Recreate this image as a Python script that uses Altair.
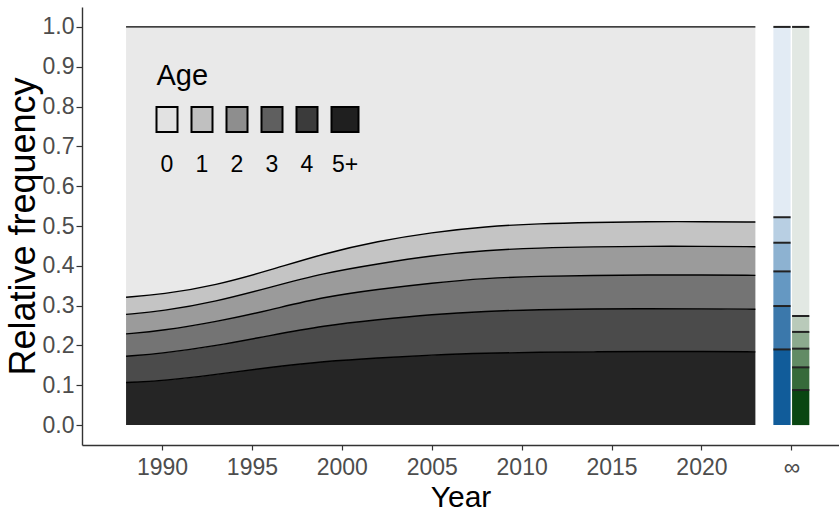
import altair as alt
import pandas as pd

# ---- data -----------------------------------------------------------------
years = [1988, 1990, 1993, 1996, 1999, 2002, 2005, 2008, 2011, 2014, 2017, 2020, 2023]

# cumulative share of the catch aged at least k (upper edge of the bands below)
age_1plus = [0.321, 0.328, 0.351, 0.389, 0.431, 0.462, 0.484, 0.499, 0.506, 0.509, 0.511, 0.511, 0.510]
age_2plus = [0.278, 0.286, 0.310, 0.346, 0.382, 0.405, 0.426, 0.439, 0.445, 0.448, 0.449, 0.449, 0.448]
age_3plus = [0.229, 0.237, 0.259, 0.289, 0.322, 0.341, 0.357, 0.369, 0.374, 0.376, 0.377, 0.377, 0.376]
age_4plus = [0.173, 0.180, 0.199, 0.225, 0.250, 0.265, 0.278, 0.286, 0.290, 0.292, 0.292, 0.292, 0.291]
age_5plus = [0.107, 0.111, 0.127, 0.145, 0.160, 0.169, 0.176, 0.181, 0.183, 0.184, 0.185, 0.185, 0.184]

ages = ["0", "1", "2", "3", "4", "5+"]

# long-run (year -> infinity) cumulative shares, ages >=1 ... 5+
equilibrium_blue = [0.522, 0.458, 0.386, 0.299, 0.190]
equilibrium_green = [0.274, 0.234, 0.192, 0.145, 0.088]

x_ticks = [1990, 1995, 2000, 2005, 2010, 2015, 2020, 2025]
y_ticks = [0.0, 0.1, 0.2, 0.3, 0.4, 0.5, 0.6, 0.7, 0.8, 0.9, 1.0]

# ---- styles ----------------------------------------------------------------
FONT = "Liberation Sans, Arial, sans-serif"
AREA_FILL = ["#E9E9E9", "#C4C4C4", "#9B9B9B", "#747474", "#4B4B4B", "#252525"]
KEY_FILL = ["#E2E2E2", "#C0C0C0", "#8E8E8E", "#5F5F5F", "#3B3B3B", "#1F1F1F"]
BLUE_FILL = ["#E2EBF4", "#B8CFE3", "#8DB2D1", "#6598C2", "#3B78AB", "#115C9A"]
GREEN_FILL = ["#E2E8E3", "#B9CABA", "#8CAA8E", "#628B65", "#366A3A", "#0A4612"]
AXIS_GREY = "#4D4D4D"
LINE_GREY = "#333333"
CURVE = "basis"

INF_POS = 2025  # where the "infinity" column sits on the year axis
BAR_SPANS = {"blue": (INF_POS - 1.0, INF_POS - 0.04), "green": (INF_POS + 0.04, INF_POS + 1.0)}

W, H = 757, 438
x_scale = alt.Scale(domain=[1985.55, 2027.65], nice=False, zero=False)
y_scale = alt.Scale(domain=[-0.05, 1.05], nice=False, zero=False)

# ---- tables ----------------------------------------------------------------
band_rows, edge_rows = [], []
for i, yr in enumerate(years):
    cum = [1.0, age_1plus[i], age_2plus[i], age_3plus[i], age_4plus[i], age_5plus[i], 0.0]
    for k, age in enumerate(ages):
        band_rows.append({"year": yr, "age": age, "upper": cum[k],
                          "lower": cum[k + 1], "fill": AREA_FILL[k]})
    for k in range(6):
        edge_rows.append({"year": yr, "edge": k, "share": cum[k]})
bands = pd.DataFrame(band_rows)
edges = pd.DataFrame(edge_rows)

bar_rows, bar_edge_rows = [], []
for name, shares, fills in [("blue", equilibrium_blue, BLUE_FILL),
                            ("green", equilibrium_green, GREEN_FILL)]:
    x0, x1 = BAR_SPANS[name]
    cum = [1.0] + shares + [0.0]
    for k, age in enumerate(ages):
        bar_rows.append({"scenario": name, "age": age, "x0": x0, "x1": x1,
                         "upper": cum[k], "lower": cum[k + 1], "fill": fills[k]})
    for k in range(6):
        bar_edge_rows.append({"scenario": name, "x0": x0, "x1": x1, "share": cum[k]})
bars = pd.DataFrame(bar_rows)
bar_edges = pd.DataFrame(bar_edge_rows)

# legend laid out in plot pixels: keys in a row, labels underneath
key_w = [21, 21, 21, 21, 21, 27]
key_gap = 14
key_left = 74.5
legend_rows = []
left = key_left
for k, age in enumerate(ages):
    legend_rows.append({"age": age, "lx0": left, "lx1": left + key_w[k],
                        "lxc": left + key_w[k] / 2, "ly0": 100, "ly1": 125,
                        "lyt": 164.5, "fill": KEY_FILL[k]})
    left += key_w[k] + key_gap
legend = pd.DataFrame(legend_rows)
legend_title = pd.DataFrame([{"txt": "Age", "lx": key_left, "ly": 78}])

# ---- layers ----------------------------------------------------------------
x_axis = alt.Axis(values=x_ticks, format="d",
                  labelExpr="datum.value == 2025 ? '∞' : datum.label",
                  title="Year", grid=False)
y_axis = alt.Axis(values=y_ticks, format=".1f", title="Relative frequency", grid=False)

area = alt.Chart(bands).mark_area(interpolate=CURVE).encode(
    x=alt.X("year:Q", scale=x_scale, axis=x_axis),
    y=alt.Y("lower:Q", scale=y_scale, axis=y_axis),
    y2="upper:Q",
    color=alt.Color("fill:N", scale=None),
    detail="age:N",
)

edge_lines = alt.Chart(edges).mark_line(interpolate=CURVE, color="black",
                                        strokeWidth=1.4).encode(
    x="year:Q", y="share:Q", detail="edge:N")

bar_rects = alt.Chart(bars).mark_rect().encode(
    x="x0:Q", x2="x1:Q", y="lower:Q", y2="upper:Q",
    color=alt.Color("fill:N", scale=None))

bar_lines = alt.Chart(bar_edges).mark_rule(color="#222222", strokeWidth=2).encode(
    x="x0:Q", x2="x1:Q", y="share:Q")

legend_keys = alt.Chart(legend).mark_rect(stroke="black", strokeWidth=2).encode(
    x=alt.X("lx0:Q", scale=None, axis=None), x2="lx1:Q",
    y=alt.Y("ly0:Q", scale=None, axis=None), y2="ly1:Q",
    color=alt.Color("fill:N", scale=None))

legend_labels = alt.Chart(legend).mark_text(
    font=FONT, fontSize=23, color="black", align="center", baseline="alphabetic"
).encode(x=alt.X("lxc:Q", scale=None, axis=None),
         y=alt.Y("lyt:Q", scale=None, axis=None), text="age:N")

legend_head = alt.Chart(legend_title).mark_text(
    font=FONT, fontSize=29, color="black", align="left", baseline="alphabetic"
).encode(x=alt.X("lx:Q", scale=None, axis=None),
         y=alt.Y("ly:Q", scale=None, axis=None), text="txt:N")

chart = alt.layer(
    area, edge_lines, bar_rects, bar_lines, legend_keys, legend_labels, legend_head
).properties(
    width=W, height=H,
    padding={"left": 82, "top": 7, "right": 0, "bottom": 71},
    autosize=alt.AutoSizeParams(type="none"),
    background="white",
).configure_view(stroke=None).configure_axis(
    domainColor=LINE_GREY, domainWidth=1.4,
    tickColor=LINE_GREY, tickWidth=1.2, tickSize=5,
    labelFont=FONT, labelFontSize=23, labelColor=AXIS_GREY,
    titleFont=FONT, titleColor="black", titleFontWeight="normal",
).configure_axisX(
    labelPadding=6, titleFontSize=30, titlePadding=3,
).configure_axisY(
    labelPadding=2, tickSize=6, titleFontSize=36, titlePadding=0,
)

chart.save("out.html", embed_options={"renderer": "svg", "actions": False})
